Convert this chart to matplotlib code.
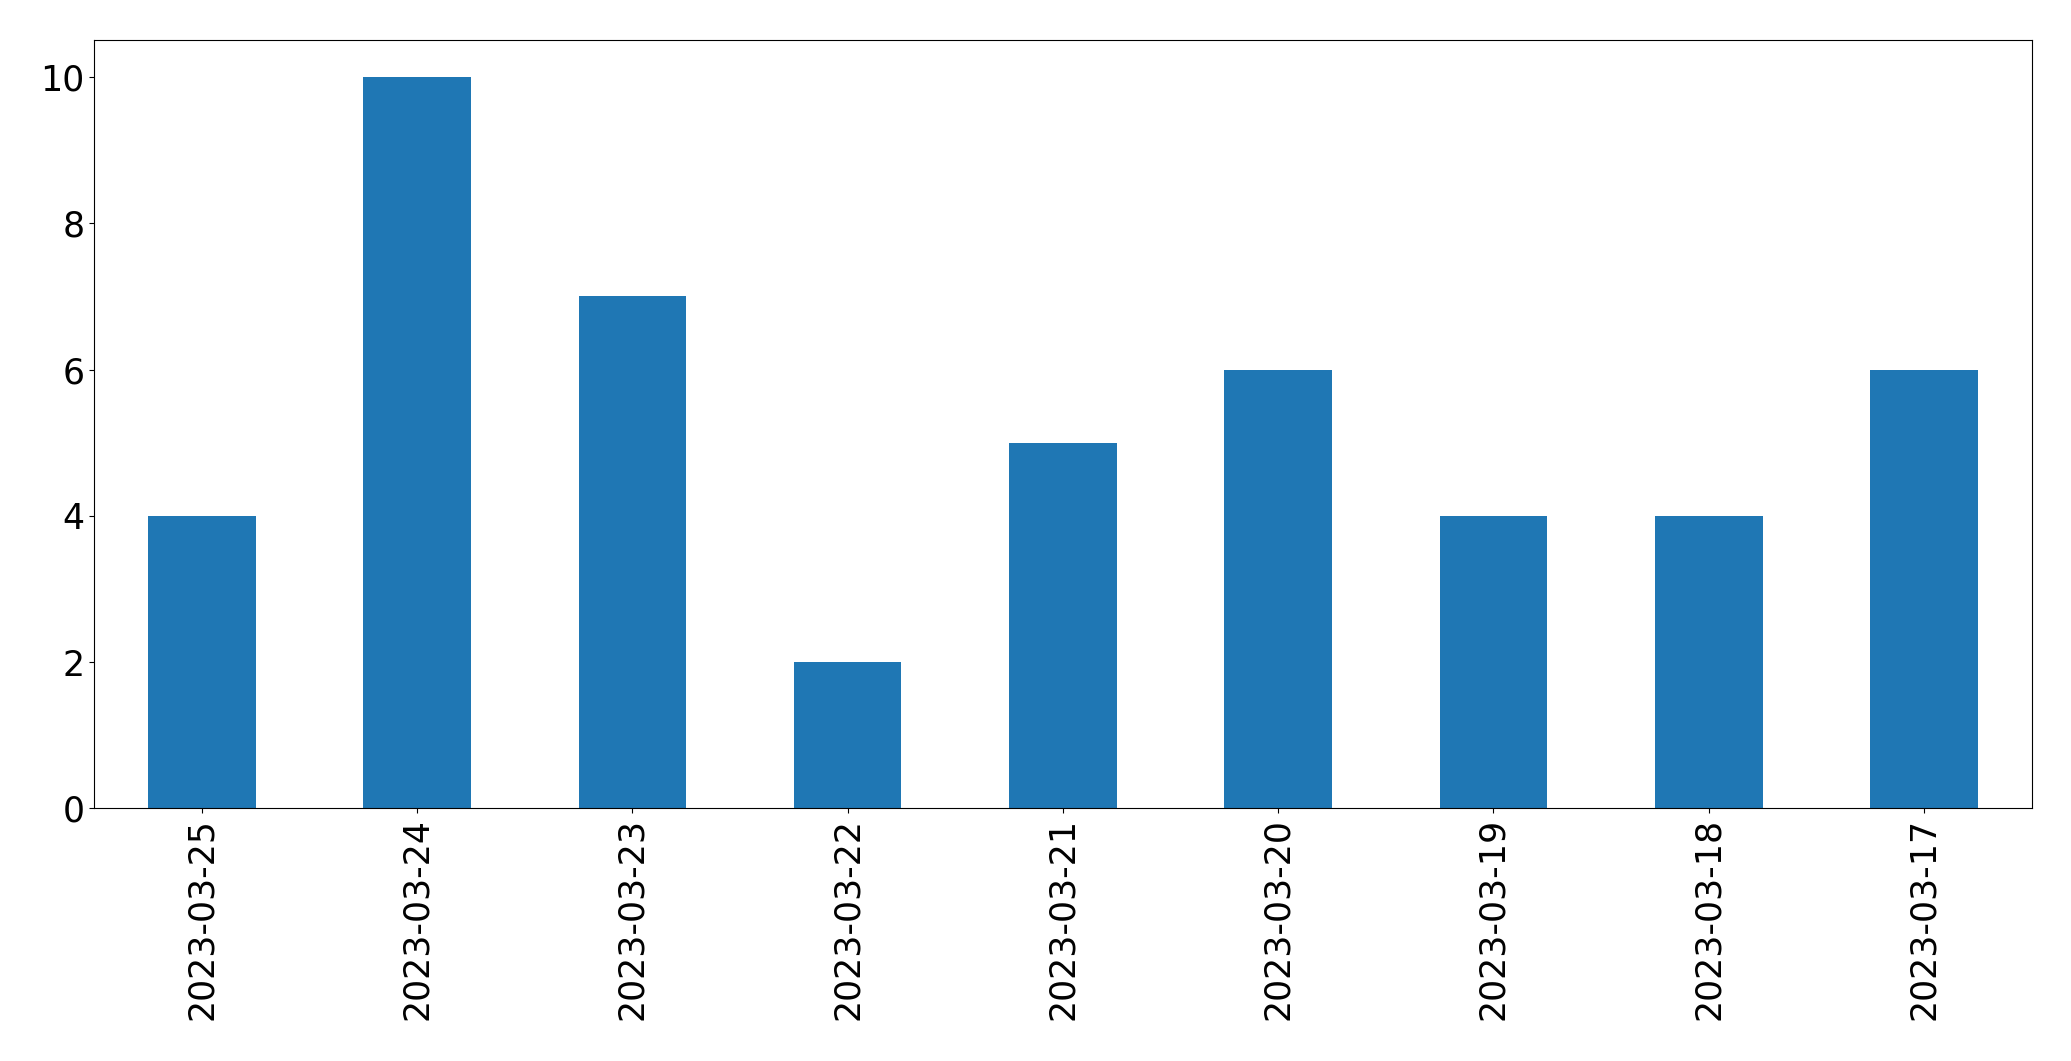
import matplotlib
matplotlib.use("Agg")
import matplotlib.pyplot as plt
import pandas as pd

dates = ["2023-03-25", "2023-03-24", "2023-03-23", "2023-03-22", "2023-03-21",
         "2023-03-20", "2023-03-19", "2023-03-18", "2023-03-17"]
counts = [4, 10, 7, 2, 5, 6, 4, 4, 6]

s = pd.Series(counts, index=dates)
fig, ax = plt.subplots(figsize=(20.71, 10.61), dpi=100)
s.plot(kind="bar", ax=ax, color="#1f77b4")
ax.tick_params(axis="both", labelsize=25)
fig.subplots_adjust(left=0.0455, right=0.981, top=0.962, bottom=0.238)
fig.savefig("out.png", dpi=100)
